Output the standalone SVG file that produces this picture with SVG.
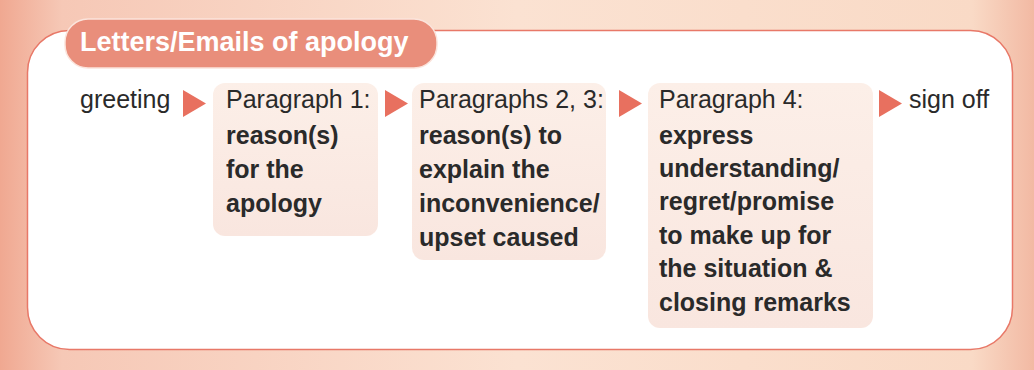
<svg xmlns="http://www.w3.org/2000/svg" width="1034" height="370" viewBox="0 0 1034 370">
  <defs>
    <linearGradient id="bg" x1="0" y1="0" x2="1" y2="0">
      <stop offset="0" stop-color="#f0a891"/>
      <stop offset="0.06" stop-color="#f6c8b6"/>
      <stop offset="0.5" stop-color="#fbe2d2"/>
      <stop offset="0.94" stop-color="#f9dac6"/>
      <stop offset="1" stop-color="#f2b9a3"/>
    </linearGradient>
    <linearGradient id="nodefill" x1="0" y1="0" x2="0" y2="1">
      <stop offset="0" stop-color="#fcefe8"/>
      <stop offset="1" stop-color="#f9e6df"/>
    </linearGradient>
    <style>
      .txt { font-family: "Liberation Sans", Arial, sans-serif; font-size: 25px; fill: #2a2a2a; }
      .bold { font-weight: bold; }
      .title { font-family: "Liberation Sans", Arial, sans-serif; font-size: 27px; font-weight: bold; fill: #ffffff; }
      .box { fill: url(#nodefill); }
      .arrow { fill: #e8705f; }
    </style>
  </defs>

  <rect x="0" y="0" width="1034" height="370" fill="url(#bg)"/>
  <rect x="27.5" y="30.5" width="985" height="319" rx="42" fill="#ffffff" stroke="#e87868" stroke-width="1.5"/>

  <g id="title">
    <rect x="65" y="19" width="372" height="49" rx="23" fill="#e98e7b" stroke="#fbe4dc" stroke-width="1.5"/>
    <text class="title" x="80" y="51">Letters/Emails of apology</text>
  </g>

  <g id="greeting">
    <text class="txt" x="80" y="108">greeting</text>
  </g>

  <g id="paragraph1">
    <rect class="box" x="213" y="83" width="165" height="153" rx="12"/>
    <text class="txt" x="226" y="108">Paragraph 1:</text>
    <text class="txt bold" x="226" y="144">reason(s)</text>
    <text class="txt bold" x="226" y="178">for the</text>
    <text class="txt bold" x="226" y="212">apology</text>
  </g>

  <g id="paragraphs23">
    <rect class="box" x="412" y="83" width="194" height="177" rx="12"/>
    <text class="txt" x="419" y="108">Paragraphs 2, 3:</text>
    <text class="txt bold" x="419" y="144">reason(s) to</text>
    <text class="txt bold" x="419" y="178">explain the</text>
    <text class="txt bold" x="419" y="212">inconvenience/</text>
    <text class="txt bold" x="419" y="246">upset caused</text>
  </g>

  <g id="paragraph4">
    <rect class="box" x="648" y="83" width="225" height="245" rx="12"/>
    <text class="txt" x="659" y="108">Paragraph 4:</text>
    <text class="txt bold" x="659" y="144">express</text>
    <text class="txt bold" x="659" y="177">understanding/</text>
    <text class="txt bold" x="659" y="210">regret/promise</text>
    <text class="txt bold" x="659" y="244">to make up for</text>
    <text class="txt bold" x="659" y="277">the situation &amp;</text>
    <text class="txt bold" x="659" y="311">closing remarks</text>
  </g>

  <g id="signoff">
    <text class="txt" x="909" y="108">sign off</text>
  </g>

  <g id="connectors">
    <polygon class="arrow" points="183,90 206,103.5 183,117"/>
    <polygon class="arrow" points="385,90 408,103.5 385,117"/>
    <polygon class="arrow" points="619,90 642,103.5 619,117"/>
    <polygon class="arrow" points="879,90 902,103.5 879,117"/>
  </g>
</svg>
